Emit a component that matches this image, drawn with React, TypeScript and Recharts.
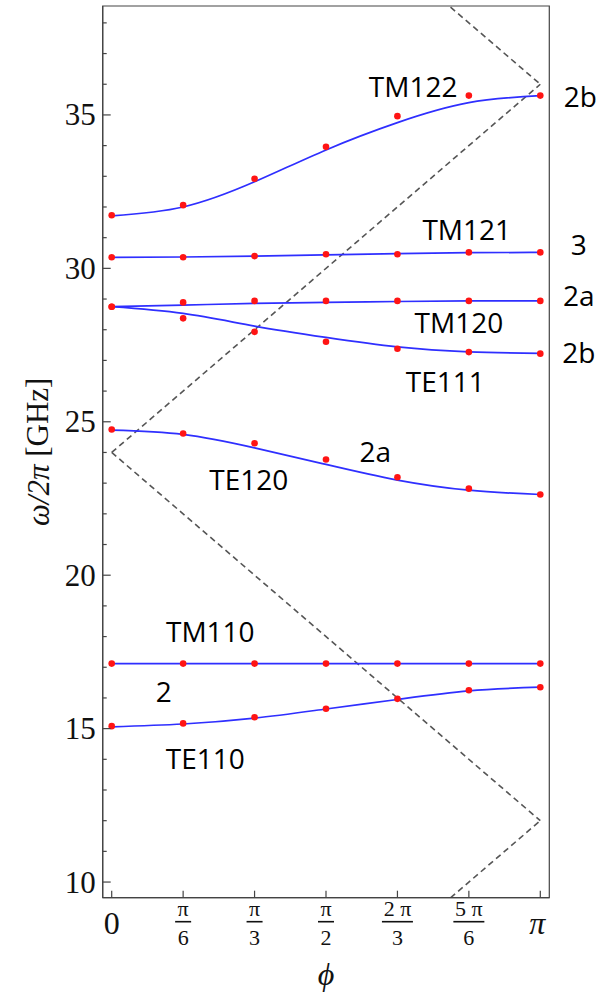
import { Line, LineChart, ReferenceArea, ReferenceDot, XAxis, YAxis } from "recharts";

// phase advance in steps of pi/6
const phiSteps = [0, 1, 2, 3, 4, 5, 6];
const xTickNum = ["0", "π", "π", "π", "2 π", "5 π", "π"];
const xTickDen = ["", "6", "3", "2", "3", "6", ""];
const yTicks = [10, 11, 12, 13, 14, 15, 16, 17, 18, 19, 20, 21, 22, 23, 24, 25, 26, 27, 28, 29, 30, 31, 32, 33, 34, 35, 36, 37, 38];

// simulated points (red) and fitted curves (blue), GHz
const tm122Pts = [31.73, 32.06, 32.92, 33.96, 34.96, 35.63, 35.63];
const tm122Fit = [31.71, 32.0, 32.82, 33.86, 34.75, 35.4, 35.63];
const tm121Pts = [30.36, 30.36, 30.4, 30.46, 30.46, 30.52, 30.52];
const tm121Fit = [30.36, 30.37, 30.4, 30.44, 30.48, 30.51, 30.52];
const tm120Pts = [28.75, 28.89, 28.94, 28.94, 28.94, 28.94, 28.94];
const tm120Fit = [28.75, 28.8, 28.86, 28.89, 28.92, 28.94, 28.94];
const te111Pts = [28.75, 28.37, 27.93, 27.61, 27.38, 27.27, 27.22];
const te111Fit = [28.75, 28.53, 28.12, 27.75, 27.44, 27.28, 27.23];
const te120Pts = [24.75, 24.62, 24.3, 23.77, 23.19, 22.82, 22.63];
const te120Fit = [24.73, 24.59, 24.15, 23.61, 23.1, 22.77, 22.63];
const tm110Pts = [17.12, 17.12, 17.12, 17.12, 17.12, 17.12, 17.12];
const tm110Fit = [17.12, 17.12, 17.12, 17.12, 17.12, 17.12, 17.12];
const te110Pts = [15.08, 15.17, 15.37, 15.65, 15.97, 16.25, 16.35];
const te110Fit = [15.06, 15.15, 15.34, 15.64, 15.95, 16.23, 16.35];

// light lines (dashed), [phi, GHz] end points
const lightLines = [
  [[0, 24], [6, 36]],
  [[0, 24], [6, 12]],
  [[4, 40], [6, 36]],
  [[4, 8], [6, 12]],
];

// mode names and degeneracies
const labelText = ["TM122", "2b", "TM121", "3", "2a", "TM120", "2b", "TE111", "2a", "TE120", "TM110", "2", "TE110"];
const labelPhi = [4.22, 6.56, 4.97, 6.54, 6.54, 4.86, 6.54, 4.67, 3.69, 1.92, 1.38, 0.73, 1.31];
const labelFreq = [35.91, 35.58, 31.25, 30.76, 29.1, 28.22, 27.24, 26.29, 24.01, 23.1, 18.14, 16.19, 14.0];

const fits = [tm122Fit, tm121Fit, tm120Fit, te111Fit, te120Fit, tm110Fit, te110Fit];
const pts = [tm122Pts, tm121Pts, tm120Pts, te111Pts, te120Pts, tm110Pts, te110Pts];

const X_DOMAIN = [-0.126, 6.126];
const Y_DOMAIN = [9.49, 38.55];
const AXIS = "#444";
const SERIF = "'Liberation Serif', 'Times New Roman', serif";
const SANS = "'Open Sans', 'Noto Sans', sans-serif";

const toRows = (vals: number[]) => phiSteps.map((x, i) => ({ x, y: vals[i] }));

const YTick = ({ x, y, payload }: any) => {
  const v = payload.value;
  const major = v % 5 === 0;
  return (
    <g>
      <line x1={x} x2={x + (major ? 8 : 4)} y1={y} y2={y} stroke={AXIS} strokeWidth={1.2} />
      {major && (
        <text x={x - 7} y={y} dy="0.34em" textAnchor="end" fontFamily={SERIF} fontSize={31} fill="#111">
          {v}
        </text>
      )}
    </g>
  );
};

const XTick = ({ x, y, index }: any) => {
  const den = xTickDen[index];
  const num = xTickNum[index];
  const barW = num.length > 1 ? 31 : 16;
  return (
    <g>
      <line x1={x} x2={x} y1={y} y2={y - 7} stroke={AXIS} strokeWidth={1.2} />
      {den === "" ? (
        <text x={x - (index === 0 ? 0 : 3)} y={y + 25} dy="0.34em" textAnchor="middle" fontFamily={SERIF}
          fontStyle={index === 0 ? "normal" : "italic"} fontSize={32} fill="#111">
          {num}
        </text>
      ) : (
        <g fontFamily={SERIF} fontSize={22} fill="#111">
          <text x={x} y={y + 18} textAnchor="middle">{num}</text>
          <line x1={x - barW / 2} x2={x + barW / 2} y1={y + 24} y2={y + 24} stroke="#111" strokeWidth={1.6} />
          <text x={x} y={y + 47} textAnchor="middle">{den}</text>
        </g>
      )}
    </g>
  );
};

const YTitle = ({ viewBox }: any) => {
  const cx = (viewBox?.x ?? 0) + 38;
  const cy = (viewBox?.y ?? 6) + (viewBox?.height ?? 892) / 2;
  return (
    <text x={cx} y={cy} transform={`rotate(-90, ${cx}, ${cy})`} textAnchor="middle" dominantBaseline="central"
      fontFamily={SERIF} fontSize={31} fill="#111">
      <tspan fontStyle="italic">ω/2π</tspan> [GHz]
    </text>
  );
};

const XTitle = ({ viewBox }: any) => {
  const cx = (viewBox?.x ?? 103) + (viewBox?.width ?? 447) / 2;
  const cy = (viewBox?.y ?? 898) + 76;
  return (
    <text x={cx} y={cy} textAnchor="middle" dominantBaseline="central" fontFamily={SERIF} fontStyle="italic"
      fontSize={32} fill="#111">
      ϕ
    </text>
  );
};

export default function App() {
  return (
    <div style={{ position: "absolute", left: 0, top: 0, width: 610, height: 992, background: "#fff" }}>
      <LineChart width={610} height={992} margin={{ top: 6, right: 60.7, bottom: 34.3, left: 0 }}>
        <XAxis dataKey="x" type="number" domain={X_DOMAIN} allowDataOverflow ticks={phiSteps} interval={0}
          height={60} tickSize={0} tickMargin={0} tickLine={false} tick={<XTick />}
          axisLine={{ stroke: AXIS, strokeWidth: 1.2 }} label={<XTitle />} />
        <YAxis type="number" domain={Y_DOMAIN} allowDataOverflow ticks={yTicks} interval={0} width={102.7}
          tickSize={0} tickMargin={0} tickLine={false} tick={<YTick />}
          axisLine={{ stroke: AXIS, strokeWidth: 1.2 }} label={<YTitle />} />
        <ReferenceArea x1={X_DOMAIN[0]} x2={X_DOMAIN[1]} y1={Y_DOMAIN[0]} y2={Y_DOMAIN[1]} fill="none"
          stroke={AXIS} strokeWidth={1.2} ifOverflow="visible" />

        {lightLines.map((seg, i) => (
          <Line key={`l${i}`} data={seg.map(([x, y]) => ({ x, y }))} dataKey="y" type="linear" stroke="#555"
            strokeWidth={1.6} strokeDasharray="6 4" dot={false} activeDot={false} isAnimationActive={false} />
        ))}

        {fits.map((vals, i) => (
          <Line key={`f${i}`} data={toRows(vals)} dataKey="y" type="natural" stroke="#2f2fff" strokeWidth={1.7}
            dot={false} activeDot={false} isAnimationActive={false} />
        ))}

        {pts.map((vals, i) => (
          <Line key={`p${i}`} data={toRows(vals)} dataKey="y" stroke="none"
            dot={{ r: 3.3, fill: "#ff1414", stroke: "none" }} activeDot={false} isAnimationActive={false} />
        ))}

        {labelText.map((t, i) => (
          <ReferenceDot key={`t${i}`} x={labelPhi[i]} y={labelFreq[i]} r={1} fill="none" stroke="none"
            ifOverflow="visible"
            label={{ value: t, position: "center", fill: "#000", fontSize: 28, fontFamily: SANS }} />
        ))}
      </LineChart>
    </div>
  );
}
